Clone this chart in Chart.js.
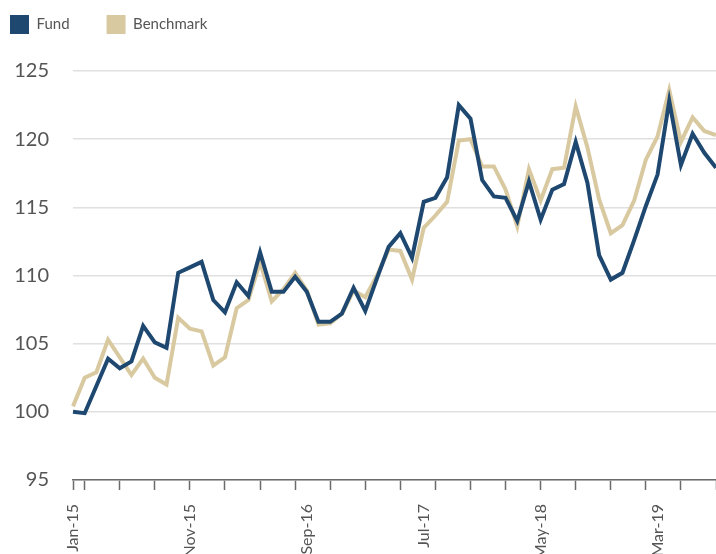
<!DOCTYPE html>
<html>
<head>
<meta charset="utf-8">
<script src="https://cdn.jsdelivr.net/npm/chart.js@4"></script>
<style>
  html, body { margin: 0; padding: 0; background: #fff; overflow: hidden; }
  #wrap { width: 716px; height: 554px; overflow: hidden; }
</style>
</head>
<body>
<div id="wrap"><canvas id="chart" width="716" height="600"></canvas></div>
<script>
// ── data ─────────────────────────────────────────────
const months = [
  'Jan-15','Feb-15','Mar-15','Apr-15','May-15','Jun-15','Jul-15','Aug-15','Sep-15','Oct-15','Nov-15','Dec-15',
  'Jan-16','Feb-16','Mar-16','Apr-16','May-16','Jun-16','Jul-16','Aug-16','Sep-16','Oct-16','Nov-16','Dec-16',
  'Jan-17','Feb-17','Mar-17','Apr-17','May-17','Jun-17','Jul-17','Aug-17','Sep-17','Oct-17','Nov-17','Dec-17',
  'Jan-18','Feb-18','Mar-18','Apr-18','May-18','Jun-18','Jul-18','Aug-18','Sep-18','Oct-18','Nov-18','Dec-18',
  'Jan-19','Feb-19','Mar-19','Apr-19','May-19','Jun-19','Jul-19','Aug-19'
];

const fund = [
  100.0, 99.9, 101.9, 103.9, 103.2, 103.7, 106.3, 105.1, 104.7, 110.2, 110.6, 111.0,
  108.2, 107.3, 109.5, 108.5, 111.7, 108.8, 108.8, 109.9, 108.8, 106.6, 106.6, 107.2,
  109.1, 107.4, 109.8, 112.1, 113.1, 111.3, 115.4, 115.7, 117.2, 122.5, 121.5, 117.0,
  115.8, 115.7, 114.0, 116.9, 114.1, 116.3, 116.7, 119.8, 116.8, 111.5, 109.7, 110.2,
  112.6, 115.1, 117.4, 122.8, 118.1, 120.4, 119.0, 117.9
];

const benchmark = [
  100.4, 102.5, 102.9, 105.3, 104.0, 102.7, 103.9, 102.5, 102.0, 106.9, 106.1, 105.9,
  103.4, 104.0, 107.6, 108.2, 111.0, 108.1, 109.0, 110.2, 108.9, 106.4, 106.5, 107.2,
  108.9, 108.4, 110.0, 111.9, 111.8, 109.7, 113.5, 114.4, 115.4, 119.9, 120.0, 118.0,
  118.0, 116.3, 113.6, 117.8, 115.5, 117.8, 117.9, 122.4, 119.4, 115.6, 113.1, 113.7,
  115.5, 118.5, 120.2, 123.6, 119.8, 121.6, 120.6, 120.3
];

const yTicks = [95, 100, 105, 110, 115, 120, 125];

const COLORS = {
  fund: '#1e4870',
  bench: '#d9c9a0',
  grid: '#e0e0e0',
  axis: '#6b6b6b',
  text: '#555555',
};

// ── chart ────────────────────────────────────────────
new Chart(document.getElementById('chart'), {
  type: 'line',
  data: {
    labels: months,
    datasets: [
      {
        label: 'Fund',
        data: fund,
        borderColor: COLORS.fund,
        backgroundColor: COLORS.fund,
        borderWidth: 4,
        pointRadius: 0,
        tension: 0,
        borderJoinStyle: 'miter',
      },
      {
        label: 'Benchmark',
        data: benchmark,
        borderColor: COLORS.bench,
        backgroundColor: COLORS.bench,
        borderWidth: 4,
        pointRadius: 0,
        tension: 0,
        borderJoinStyle: 'miter',
      },
    ],
  },
  options: {
    responsive: false,
    animation: false,
    // negative padding so the legend's item gap can be wide without a wide margin
    layout: { padding: { top: -22, left: -27, right: 0, bottom: 0 } },
    plugins: {
      legend: {
        position: 'top',
        align: 'start',
        labels: {
          boxWidth: 19,
          boxHeight: 19,
          padding: 37,
          color: COLORS.text,
          font: { family: 'Lato', size: 15 },
          generateLabels: chart =>
            Chart.defaults.plugins.legend.labels.generateLabels(chart).map(l => ({ ...l, lineWidth: 0 })),
        },
      },
      // empty spacer between legend and plot
      subtitle: {
        display: true,
        text: '',
        weight: 500,
        padding: { top: 17, bottom: 0 },
        font: { size: 10, lineHeight: 1 },
      },
      tooltip: { enabled: false },
    },
    scales: {
      x: {
        grid: {
          display: true,
          drawOnChartArea: false,
          drawTicks: true,
          tickLength: 10,
          tickWidth: 1.5,
          tickColor: ctx => (ctx.index === 0 || ctx.index % 3 === 1) ? COLORS.axis : 'rgba(0,0,0,0)',
        },
        border: { display: true, color: COLORS.axis, width: 1.5 },
        ticks: {
          autoSkip: false,
          minRotation: 90,
          maxRotation: 90,
          padding: 14,
          color: COLORS.text,
          font: { family: 'Lato', size: 16 },
          callback: (v, i) => (i % 10 === 0 ? months[i] : ''),
        },
        afterFit: s => { s.height = 120; s.paddingLeft = 0; s.paddingRight = 0; },
      },
      y: {
        min: yTicks[0],
        max: yTicks[yTicks.length - 1],
        afterBuildTicks: s => { s.ticks = yTicks.map(v => ({ value: v })); },
        grid: { color: COLORS.grid, lineWidth: 1.5, drawTicks: false },
        border: { display: false },
        ticks: {
          padding: 24,
          color: COLORS.text,
          font: { family: 'Lato', size: 20 },
        },
        afterFit: s => { s.width = 100; s.paddingBottom = 0; },
      },
    },
  },
});
</script>
</body>
</html>
